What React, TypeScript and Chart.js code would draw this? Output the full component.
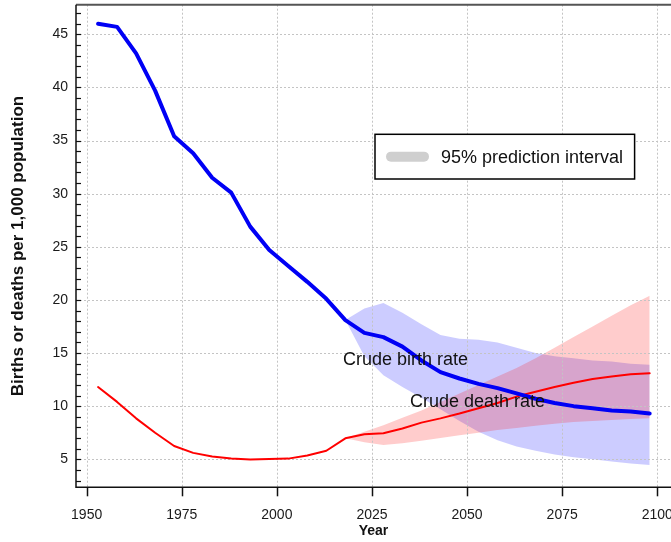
import React, { useEffect, useRef } from 'react';
import { Chart, registerables } from 'chart.js';

Chart.register(...registerables);

const FONT = "'Liberation Sans', Arial, Helvetica, sans-serif";

// Observed period midpoints
const YEARS = [1953, 1958, 1963, 1968, 1973, 1978, 1983, 1988, 1993, 1998, 2003, 2008, 2013, 2018, 2023, 2028, 2033, 2038, 2043, 2048, 2053, 2058, 2063, 2068, 2073, 2078, 2083, 2088, 2093, 2098];
const BIRTH_RATE = [46.0, 45.7, 43.2, 39.7, 35.4, 33.8, 31.5, 30.1, 26.9, 24.7, 23.2, 21.7, 20.1, 18.1, 16.9, 16.5, 15.6, 14.3, 13.2, 12.6, 12.1, 11.7, 11.2, 10.7, 10.3, 10.0, 9.8, 9.6, 9.5, 9.3];
const DEATH_RATE = [11.8, 10.4, 8.85, 7.5, 6.25, 5.6, 5.25, 5.06, 4.97, 5.03, 5.06, 5.35, 5.8, 6.97, 7.35, 7.45, 7.9, 8.45, 8.85, 9.3, 9.8, 10.3, 10.9, 11.35, 11.8, 12.2, 12.55, 12.8, 13.0, 13.1];

// Projection years (95% prediction interval)
const PROJ_YEARS = [2018, 2023, 2028, 2033, 2038, 2043, 2048, 2053, 2058, 2063, 2068, 2073, 2078, 2083, 2088, 2093, 2098];
const BIRTH_LO = [18.1, 14.7, 12.9, 11.8, 10.8, 9.7, 8.6, 7.6, 6.8, 6.2, 5.8, 5.45, 5.2, 5.0, 4.8, 4.6, 4.45];
const BIRTH_HI = [18.1, 19.2, 19.7, 18.8, 17.7, 16.7, 16.35, 16.25, 16.0, 15.5, 15.0, 14.7, 14.5, 14.3, 14.2, 14.0, 13.9];
const DEATH_LO = [6.97, 6.6, 6.35, 6.5, 6.75, 7.0, 7.25, 7.5, 7.75, 7.95, 8.15, 8.35, 8.5, 8.6, 8.7, 8.8, 8.85];
const DEATH_HI = [6.97, 7.6, 8.2, 8.9, 9.6, 10.4, 11.2, 12.0, 12.8, 13.6, 14.5, 15.5, 16.5, 17.5, 18.5, 19.5, 20.4];

const X_TICKS = [1950, 1975, 2000, 2025, 2050, 2075, 2100];
const Y_TICKS = [5, 10, 15, 20, 25, 30, 35, 40, 45];
const Y_MINOR = [3, 4, 5, 6, 7, 8, 9, 10, 11, 12, 13, 14, 15, 16, 17, 18, 19, 20, 21, 22, 23, 24, 25, 26, 27, 28, 29, 30, 31, 32, 33, 34, 35, 36, 37, 38, 39, 40, 41, 42, 43, 44, 45, 46, 47];

const X_MIN = 1947.2;
const X_MAX = 2103.6;
const Y_MIN = 2.36;
const Y_MAX = 47.79;

const X_TITLE = 'Year';
const Y_TITLE = 'Births or deaths per 1,000 population';
const SERIES_LABELS = [
  { text: 'Crude birth rate', x: 2017.4, y: 13.9 },
  { text: 'Crude death rate', x: 2035.0, y: 9.96 },
];
const LEGEND_TEXT = '95% prediction interval';

const pts = (xs: number[], ys: number[]) => xs.map((x, i) => ({ x, y: ys[i] }));

const zeroPad = (s: any) => {
  s.paddingTop = 0;
  s.paddingBottom = 0;
  s.paddingLeft = 0;
  s.paddingRight = 0;
};

const decorPlugin = {
  id: 'decor',
  beforeDatasetsDraw(chart: any) {
    const { ctx, chartArea: a, scales } = chart;
    const x = scales.x;
    const y = scales.y;
    ctx.save();
    ctx.strokeStyle = '#c4c4c4';
    ctx.lineWidth = 1;
    ctx.setLineDash([2, 2]);
    for (const v of X_TICKS) {
      const px = Math.round(x.getPixelForValue(v)) + 0.5;
      ctx.beginPath();
      ctx.moveTo(px, a.top);
      ctx.lineTo(px, a.bottom);
      ctx.stroke();
    }
    for (const v of Y_TICKS) {
      const py = Math.round(y.getPixelForValue(v)) + 0.5;
      ctx.beginPath();
      ctx.moveTo(a.left, py);
      ctx.lineTo(a.right, py);
      ctx.stroke();
    }
    ctx.restore();
  },
  afterDatasetsDraw(chart: any) {
    const { ctx, chartArea: a, scales } = chart;
    const x = scales.x;
    const y = scales.y;
    ctx.save();
    // frame
    ctx.setLineDash([]);
    ctx.strokeStyle = '#555';
    ctx.lineWidth = 2;
    ctx.beginPath();
    ctx.moveTo(a.left, a.top);
    ctx.lineTo(a.right, a.top);
    ctx.stroke();
    ctx.strokeStyle = '#111';
    ctx.lineWidth = 1.5;
    ctx.beginPath();
    ctx.moveTo(a.left, a.top);
    ctx.lineTo(a.left, a.bottom);
    ctx.lineTo(a.right, a.bottom);
    ctx.stroke();
    // y minor ticks (inward)
    ctx.lineWidth = 1.2;
    for (const v of Y_MINOR) {
      const py = Math.round(y.getPixelForValue(v)) + 0.5;
      ctx.beginPath();
      ctx.moveTo(a.left, py);
      ctx.lineTo(a.left + 5, py);
      ctx.stroke();
    }
    // x ticks (outward)
    ctx.lineWidth = 1.5;
    for (const v of X_TICKS) {
      const px = Math.round(x.getPixelForValue(v)) + 0.5;
      ctx.beginPath();
      ctx.moveTo(px, a.bottom);
      ctx.lineTo(px, a.bottom + 9);
      ctx.stroke();
    }
    // series labels
    ctx.fillStyle = '#111';
    ctx.font = `18px ${FONT}`;
    ctx.textAlign = 'left';
    ctx.textBaseline = 'alphabetic';
    for (const l of SERIES_LABELS) {
      ctx.fillText(l.text, x.getPixelForValue(l.x), y.getPixelForValue(l.y));
    }
    // legend box
    const bx = a.left + 299;
    const by = a.top + 129.6;
    const bw = 259.6;
    const bh = 44.7;
    ctx.fillStyle = '#fff';
    ctx.fillRect(bx, by, bw, bh);
    ctx.strokeStyle = '#000';
    ctx.lineWidth = 1.5;
    ctx.strokeRect(bx, by, bw, bh);
    ctx.strokeStyle = '#cfcfcf';
    ctx.lineWidth = 10;
    ctx.lineCap = 'round';
    ctx.beginPath();
    ctx.moveTo(bx + 16, by + bh / 2);
    ctx.lineTo(bx + 49, by + bh / 2);
    ctx.stroke();
    ctx.fillStyle = '#111';
    ctx.font = `18px ${FONT}`;
    ctx.textBaseline = 'middle';
    ctx.fillText(LEGEND_TEXT, bx + 66, by + bh / 2 + 1);
    ctx.restore();
  },
};

export default function App() {
  const ref = useRef<HTMLCanvasElement | null>(null);
  useEffect(() => {
    document.body.style.margin = '0';
    const canvas = ref.current;
    if (!canvas) return;
    const lineBase = { pointRadius: 0, pointHoverRadius: 0, tension: 0, borderJoinStyle: 'round', borderCapStyle: 'round' };
    const bandBase = { pointRadius: 0, pointHoverRadius: 0, tension: 0, borderWidth: 0, borderColor: 'transparent' };
    const chart = new Chart(canvas, {
      type: 'line',
      data: {
        datasets: [
          { ...lineBase, label: 'Crude birth rate', data: pts(YEARS, BIRTH_RATE), borderColor: '#0000f5', borderWidth: 4, fill: false, order: 0 },
          { ...lineBase, label: 'Crude death rate', data: pts(YEARS, DEATH_RATE), borderColor: '#ff0000', borderWidth: 2, fill: false, order: 1 },
          { ...bandBase, label: 'death lo', data: pts(PROJ_YEARS, DEATH_LO), fill: false, order: 2 },
          { ...bandBase, label: 'death hi', data: pts(PROJ_YEARS, DEATH_HI), fill: '-1', backgroundColor: 'rgba(255,0,0,0.2)', order: 3 },
          { ...bandBase, label: 'birth lo', data: pts(PROJ_YEARS, BIRTH_LO), fill: false, order: 4 },
          { ...bandBase, label: 'birth hi', data: pts(PROJ_YEARS, BIRTH_HI), fill: '-1', backgroundColor: 'rgba(0,0,255,0.2)', order: 5 },
        ],
      } as any,
      options: {
        animation: false,
        responsive: false,
        devicePixelRatio: 1,
        events: [],
        layout: { padding: { top: 4.7, left: 0, right: 0, bottom: 0 } },
        plugins: {
          legend: { display: false },
          tooltip: { enabled: false },
          filler: { drawTime: 'beforeDatasetsDraw' },
        },
        scales: {
          x: {
            type: 'linear',
            min: X_MIN,
            max: X_MAX,
            afterBuildTicks: (s: any) => { s.ticks = X_TICKS.map((v) => ({ value: v })); },
            afterFit: (s: any) => { s.height = 54.7; zeroPad(s); },
            grid: { display: false, drawTicks: false },
            border: { display: false },
            ticks: { color: '#1a1a1a', font: { family: FONT, size: 14 }, padding: 19, maxRotation: 0, callback: (v: any) => String(v) },
            title: { display: true, text: X_TITLE, color: '#111', font: { family: FONT, size: 14, weight: 'bold' }, padding: { top: 2.6, bottom: 2.6 } },
          },
          y: {
            type: 'linear',
            min: Y_MIN,
            max: Y_MAX,
            afterBuildTicks: (s: any) => { s.ticks = Y_TICKS.map((v) => ({ value: v })); },
            afterFit: (s: any) => { s.width = 76; zeroPad(s); },
            grid: { display: false, drawTicks: false },
            border: { display: false },
            ticks: { color: '#1a1a1a', font: { family: FONT, size: 14 }, padding: 8, callback: (v: any) => String(v) },
            title: { display: true, text: Y_TITLE, color: '#111', font: { family: FONT, size: 17, weight: 'bold' }, padding: { top: 7.8, bottom: 7.8 } },
          },
        },
      } as any,
      plugins: [decorPlugin],
    });
    return () => chart.destroy();
  }, []);
  return (
    <div style={{ width: 671, height: 542 }}>
      <canvas ref={ref} width={671} height={542} style={{ display: 'block' }} />
    </div>
  );
}
